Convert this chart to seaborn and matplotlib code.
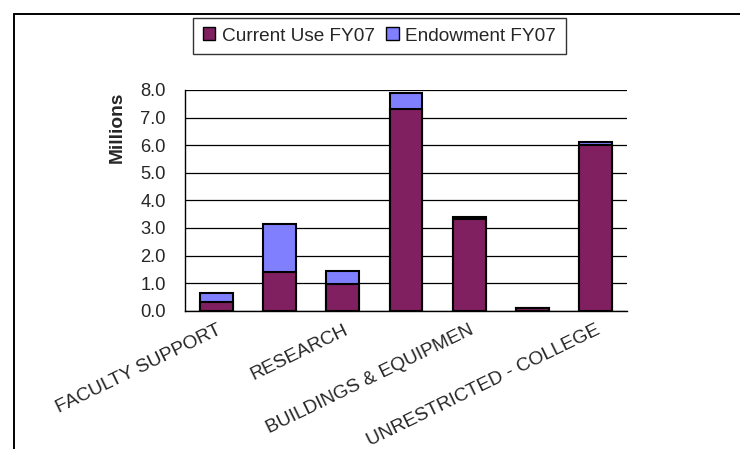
import matplotlib
matplotlib.use("Agg")
import matplotlib.pyplot as plt
import seaborn as sns
import pandas as pd
from matplotlib.patches import Patch
from matplotlib.lines import Line2D

# ---- data (millions) ----
categories = ["FACULTY SUPPORT", "CATEGORY 2", "RESEARCH", "CATEGORY 4",
              "BUILDINGS & EQUIPMEN", "CATEGORY 6", "UNRESTRICTED - COLLEGE"]
shown_labels = ["FACULTY SUPPORT", "RESEARCH", "BUILDINGS & EQUIPMEN", "UNRESTRICTED - COLLEGE"]
current_use = [0.30, 1.40, 0.98, 7.32, 3.33, 0.11, 6.02]
endowment = [0.33, 1.74, 0.45, 0.56, 0.07, 0.00, 0.08]
yticks = [0, 1, 2, 3, 4, 5, 6, 7, 8]

series_names = ["Current Use FY07", "Endowment FY07"]
c_cur = "#802060"
c_end = "#8080FF"

df = pd.DataFrame({"category": categories, "current": current_use, "endow": endowment})
df["total"] = df["current"] + df["endow"]

sns.set_style("white")
plt.rcParams["font.family"] = ["Liberation Sans", "DejaVu Sans"]
FS_TICK = 13.2
FS_X = 13.8
FS_LEG = 13.7

fig = plt.figure(figsize=(7.40, 4.49), dpi=100)
ax = fig.add_axes([185/740, 1-310.7/449, (627-185)/740, (310.7-90)/449])

sns.barplot(data=df, x="category", y="total", order=categories, color=c_end,
            width=0.52, edgecolor="black", linewidth=1.5, saturation=1, ax=ax, zorder=3)
sns.barplot(data=df, x="category", y="current", order=categories, color=c_cur,
            width=0.52, edgecolor="black", linewidth=1.5, saturation=1, ax=ax, zorder=4)

ax.set_xlim(-0.5, len(categories) - 0.5)
ax.set_ylim(0, 8)
ax.set_yticks(yticks)
ax.set_yticklabels([f"{v:.1f}" for v in yticks], fontsize=FS_TICK)
ax.yaxis.grid(True, color="black", linewidth=0.9, zorder=0)
ax.set_axisbelow(True)

bounds = [i - 0.5 for i in range(len(categories) + 1)]
ax.set_xticks(bounds)
ax.set_xticklabels([""] * len(bounds))
ax.set_xticks([categories.index(l) for l in shown_labels], minor=True)
ax.set_xticklabels(shown_labels, minor=True, rotation=26, ha="right",
                   rotation_mode="anchor", fontsize=FS_X)
ax.tick_params(axis="x", which="minor", length=0, pad=8)
ax.tick_params(axis="x", which="major", length=5, width=0.9, color="black", direction="out")
ax.tick_params(axis="y", length=5, width=0.9, color="black", direction="out", pad=9)
ax.set_xlabel("")
ax.set_ylabel("")

for s in ["top", "right"]:
    ax.spines[s].set_visible(False)
for s in ["left", "bottom"]:
    ax.spines[s].set_color("black")
    ax.spines[s].set_linewidth(1.0)

fig.text(117/740, 1-127/449, "Millions", rotation=90, fontsize=FS_X, fontweight="bold",
         ha="center", va="center")

# outer frame (top and left edges visible)
fig.add_artist(Line2D([14/740, 1.0], [1-14/449, 1-14/449], color="black", linewidth=1.4,
                      transform=fig.transFigure))
fig.add_artist(Line2D([14/740, 14/740], [1-14/449, 0.0], color="black", linewidth=1.4,
                      transform=fig.transFigure))

handles = [Patch(facecolor=c_cur, edgecolor="black", linewidth=1.0),
           Patch(facecolor=c_end, edgecolor="black", linewidth=1.0)]
leg = fig.legend(handles, series_names, loc="center", bbox_to_anchor=(379.5/740, 1-36/449),
                 ncol=2, frameon=True, fancybox=False, fontsize=FS_LEG,
                 handlelength=0.65, handleheight=0.65, handletextpad=0.35,
                 columnspacing=0.6, borderpad=0.5, borderaxespad=0)
leg.get_frame().set_edgecolor("black")
leg.get_frame().set_linewidth(1.0)

fig.savefig("out.png", dpi=100)
